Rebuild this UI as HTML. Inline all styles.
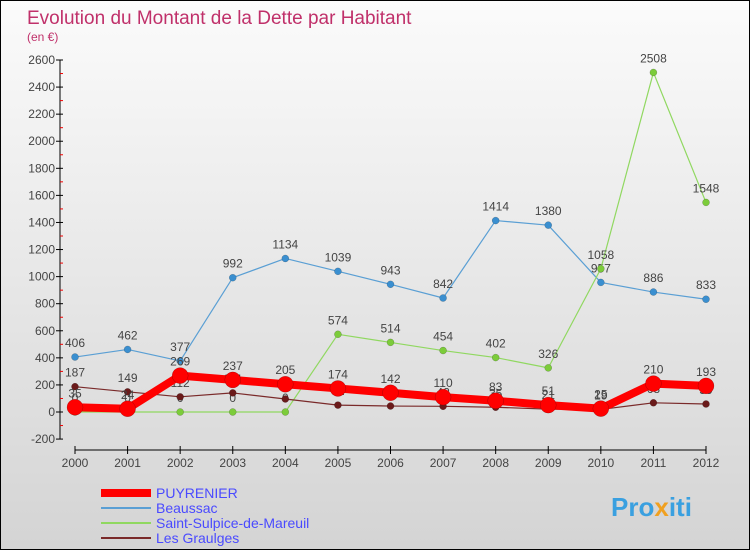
<!DOCTYPE html>
<html><head><meta charset="utf-8"><style>
body{margin:0;width:750px;height:550px;overflow:hidden;font-family:"Liberation Sans",sans-serif}
#wrap{position:relative;width:748px;height:548px;border:1px solid #000;background:linear-gradient(#fbfbfb,#d4d4d4)}
</style></head><body>
<div id="wrap">
<svg id="c" width="748" height="548" xmlns="http://www.w3.org/2000/svg">
<text x="26" y="23" font-size="19" fill="#c0306a">Evolution du Montant de la Dette par Habitant</text>
<text x="26" y="40" font-size="12" fill="#c0306a">(en €)</text>
<text x="610" y="515" font-size="26" font-weight="bold" fill="#3aa0e0">Pro<tspan fill="#f0a020">x</tspan>iti</text>
</svg></div>
<script>
const years=["2000","2001","2002","2003","2004","2005","2006","2007","2008","2009","2010","2011","2012"];
const yTicks=[-200,0,200,400,600,800,1000,1200,1400,1600,1800,2000,2200,2400,2600];
const puyrenier=[35,24,269,237,205,174,142,110,83,51,25,210,193];
const beaussac=[406,462,377,992,1134,1039,943,842,1414,1380,957,886,833];
const saintSulpice=[0,0,0,0,0,574,514,454,402,326,1058,2508,1548];
const graulges=[187,149,112,141,96,51,44,42,35,21,19,68,59];
const svg=document.getElementById('c'),NS="http://www.w3.org/2000/svg";
const X=i=>74+i*(705-74)/12;
const Y=v=>411-v*(411-59)/2600;
function mk(t,a,p){const e=document.createElementNS(NS,t);for(const k in a)e.setAttribute(k,a[k]);(p||svg).appendChild(e);return e;}
const ax=mk('g',{});


mk('line',{x1:59,y1:Y(2600),x2:59,y2:Y(-200),stroke:'#000'},ax);
mk('line',{x1:X(0),y1:449,x2:X(12),y2:449,stroke:'#000'},ax);
yTicks.forEach((v,i)=>{mk('line',{x1:55,x2:62,y1:Y(v),y2:Y(v),stroke:'#000'},ax);
if(i<yTicks.length-1)mk('line',{x1:59,x2:62,y1:Y(v+100),y2:Y(v+100),stroke:'#e00'},ax);
const t=mk('text',{x:54,y:Y(v)+4,'font-size':12,fill:'#444','text-anchor':'end'},ax);t.textContent=v;
});
years.forEach((y,i)=>{mk('line',{x1:X(i),x2:X(i),y1:445,y2:453,stroke:'#000'},ax);
const t=mk('text',{x:X(i),y:466,'font-size':12,fill:'#444','text-anchor':'middle'},ax);t.textContent=y;
});
function series(d,color,w,r,dot,name){const g=mk('g',{});


mk('polyline',{points:d.map((v,i)=>X(i)+','+Y(v)).join(' '),fill:'none',stroke:color,'stroke-width':w,'stroke-linejoin':'round'},g);
d.forEach((v,i)=>{const c=mk('circle',{cx:X(i),cy:Y(v),r:r,fill:dot,stroke:'rgba(0,0,0,.3)','stroke-width':0.5},g);

const t=mk('text',{x:X(i),y:Y(v)-10,'font-size':12,fill:'#444','text-anchor':'middle'},g);t.textContent=v;});}
series(beaussac,'#5a9fd4',1.2,3.5,'#3a8fd0','series-beaussac');
series(saintSulpice,'#90d860',1.2,3.5,'#7ccc3a','series-saint-sulpice');
series(graulges,'#7a2a2a',1.2,3.5,'#6a1a1a','series-les-graulges');
series(puyrenier,'#ff0000',8,8,'#ff0000','series-puyrenier');
const leg=[['PUYRENIER','#ff0000',8],['Beaussac','#5a9fd4',2],['Saint-Sulpice-de-Mareuil','#90d860',2],['Les Graulges','#7a2a2a',2]];
leg.forEach((l,i)=>{const g=mk('g',{});


const y=492+i*15;mk('line',{x1:100,x2:150,y1:y,y2:y,stroke:l[1],'stroke-width':l[2]},g);
const t=mk('text',{x:155,y:y+5,'font-size':14,fill:'#4a4aff'},g);t.textContent=l[0];});
</script></body></html>
